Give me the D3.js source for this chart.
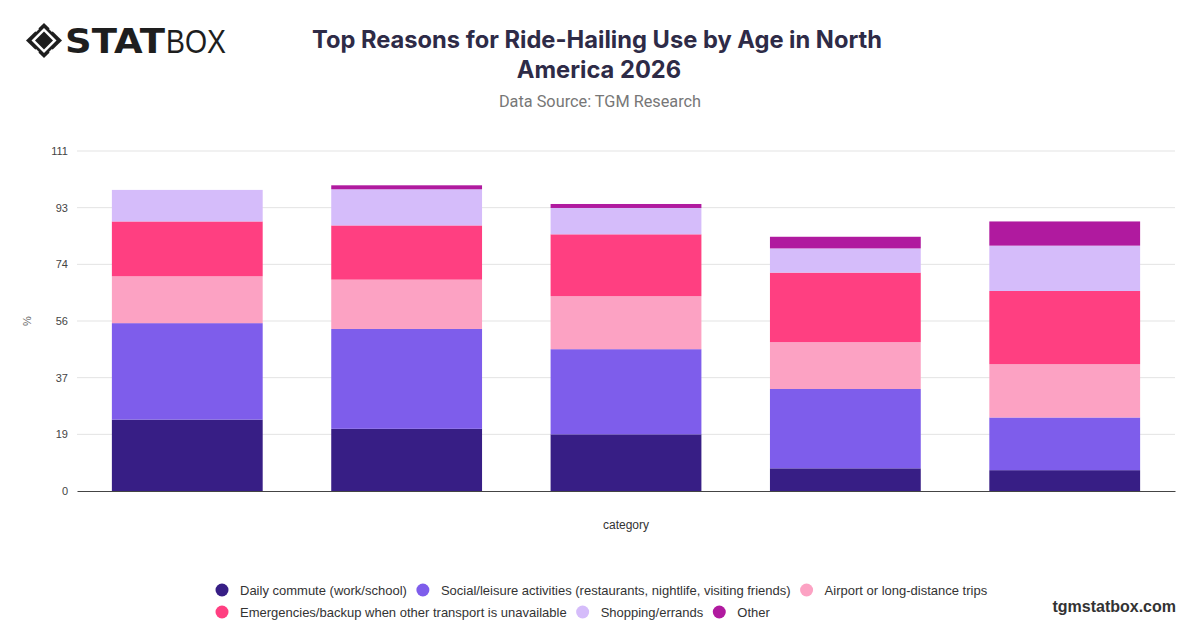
<!DOCTYPE html>
<html>
<head>
<meta charset="utf-8">
<script src="https://cdn.jsdelivr.net/npm/d3@7"></script>
<style>
  html, body { margin: 0; padding: 0; background: #fff; }
  svg { display: block; font-family: "Liberation Sans", Arial, sans-serif; }
</style>
</head>
<body>
<svg id="chart" width="1200" height="628"></svg>
<script>
// ---- Data ----
const categories = ["18-24", "25-34", "35-44", "45-54", "55+"];
const seriesNames = [
  "Daily commute (work/school)",
  "Social/leisure activities (restaurants, nightlife, visiting friends)",
  "Airport or long-distance trips",
  "Emergencies/backup when other transport is unavailable",
  "Shopping/errands",
  "Other"
];
const dailyCommute   = [23.3, 20.3, 18.5, 7.4, 6.8];
const socialLeisure  = [31.5, 32.6, 27.8, 25.9, 17.2];
const airportTrips   = [15.3, 16.1, 17.3, 15.3, 17.4];
const emergencies    = [17.9, 17.7, 20.2, 22.7, 23.9];
const shopping       = [10.3, 11.8, 8.6, 7.9, 14.8];
const other          = [0.0, 1.3, 1.3, 3.8, 7.9];
const yTickValues    = [0, 18.5, 37, 55.5, 74, 92.5, 111];
const yMax = 111;
const colors = ["#371e85", "#7e5deb", "#fca2c3", "#ff3f81", "#d5bcfa", "#b01a9f"];

(function () {
const seriesValues = [dailyCommute, socialLeisure, airportTrips, emergencies, shopping, other];
const table = categories.map((c, i) => {
  const row = { category: c };
  seriesNames.forEach((s, j) => { row[s] = seriesValues[j][i]; });
  return row;
});

const svg = d3.select("#chart");

// ---- Logo ----
const logo = svg.append("g");
logo.append("path")
  .attr("d", "M44,23 L62,40.5 L44,58 L26,40.5 Z")
  .attr("fill", "#1e1e1e");
logo.append("path")
  .attr("d", "M44,28 L56.5,40.5 L44,53 L31.5,40.5 Z")
  .attr("fill", "#fff");
logo.append("path")
  .attr("d", "M44,31.5 L53,40.5 L44,49.5 L35,40.5 Z")
  .attr("fill", "#1e1e1e");
[[35.5,31.5,38.5,28.5],[52.5,31.5,49.5,28.5],[35.5,49.5,38.5,52.5],[52.5,49.5,49.5,52.5]].forEach(p => {
  logo.append("line").attr("x1", p[0]).attr("y1", p[1]).attr("x2", p[2]).attr("y2", p[3])
    .attr("stroke", "#fff").attr("stroke-width", 1.6);
});
logo.append("text")
  .attr("x", 65).attr("y", 53)
  .attr("font-family", "'DejaVu Sans', sans-serif")
  .attr("font-weight", 900).attr("font-size", 33)
  .attr("textLength", 100).attr("lengthAdjust", "spacingAndGlyphs")
  .attr("fill", "#1e1e1e").text("STAT");
logo.append("text")
  .attr("x", 166).attr("y", 53)
  .attr("font-family", "'Liberation Sans', sans-serif")
  .attr("font-weight", 300).attr("font-size", 33)
  .attr("textLength", 60).attr("lengthAdjust", "spacingAndGlyphs")
  .attr("fill", "#1e1e1e").text("BOX");

// ---- Title ----
svg.append("text").attr("x", 597).attr("y", 48).attr("text-anchor", "middle")
  .attr("font-family", "Inter, 'Liberation Sans', sans-serif")
  .attr("font-weight", 700).attr("font-size", 23.7).attr("fill", "#2e2b47")
  .text("Top Reasons for Ride-Hailing Use by Age in North");
svg.append("text").attr("x", 599).attr("y", 78).attr("text-anchor", "middle")
  .attr("font-family", "Inter, 'Liberation Sans', sans-serif")
  .attr("font-weight", 700).attr("font-size", 23.7).attr("fill", "#2e2b47")
  .text("America 2026");
svg.append("text").attr("x", 600).attr("y", 107).attr("text-anchor", "middle")
  .attr("font-family", "Roboto, 'Liberation Sans', sans-serif")
  .attr("font-size", 16.3).attr("fill", "#777")
  .text("Data Source: TGM Research");

// ---- Chart ----
const pLeft = 77, pRight = 1175, pTop = 151, pBottom = 491;
const x = d3.scaleBand().domain(categories).range([pLeft, pRight])
  .paddingInner(0.3125).paddingOuter(0.159);
const y = d3.scaleLinear().domain([0, yMax]).range([pBottom, pTop]);

svg.append("g").attr("class", "grid")
  .selectAll("line").data(yTickValues.filter(d => d > 0)).join("line")
  .attr("x1", pLeft).attr("x2", pRight)
  .attr("y1", d => y(d)).attr("y2", d => y(d))
  .attr("stroke", "#e3e3e3").attr("stroke-width", 1);

const yAxis = d3.axisLeft(y).tickValues(yTickValues).tickFormat(d => Math.round(d)).tickSize(0).tickPadding(9);
const yg = svg.append("g").attr("transform", `translate(${pLeft},0)`).call(yAxis);
yg.select(".domain").remove();
yg.selectAll("text").attr("font-size", 11).attr("fill", "#444")
  .attr("font-family", "'Liberation Sans', Arial, sans-serif");

const stacked = d3.stack().keys(seriesNames)(table);
svg.append("g").selectAll("g").data(stacked).join("g")
  .attr("fill", (d, i) => colors[i])
  .selectAll("rect").data(d => d).join("rect")
  .attr("x", d => x(d.data.category))
  .attr("width", x.bandwidth())
  .attr("y", d => y(d[1]))
  .attr("height", d => Math.max(0, y(d[0]) - y(d[1])));

const xAxis = d3.axisBottom(x).tickFormat(() => "").tickSize(0);
const xg = svg.append("g").attr("transform", `translate(0,${pBottom})`).call(xAxis);
xg.select(".domain").attr("stroke", "#444").attr("stroke-width", 1.2);

svg.append("text").attr("x", (pLeft + pRight) / 2).attr("y", 529).attr("text-anchor", "middle")
  .attr("font-size", 12).attr("fill", "#333").text("category");
svg.append("text").attr("transform", "translate(31,321) rotate(-90)").attr("text-anchor", "middle")
  .attr("font-size", 11).attr("fill", "#666").text("%");

// ---- Legend ----
const legend = svg.append("g").attr("font-size", 13);
const rows = [[0, 1, 2], [3, 4, 5]];
const rowY = [590, 612];
const startX = 222;
rows.forEach((r, ri) => {
  let cx = startX;
  r.forEach(idx => {
    legend.append("circle").attr("cx", cx).attr("cy", rowY[ri]).attr("r", 6.5).attr("fill", colors[idx]);
    const t = legend.append("text").attr("x", cx + 18).attr("y", rowY[ri] + 4.5)
      .attr("fill", "#333").text(seriesNames[idx]);
    const w = t.node().getComputedTextLength();
    cx += 18 + w + 16;
  });
});

svg.append("text").attr("x", 1176).attr("y", 612).attr("text-anchor", "end")
  .attr("font-weight", 700).attr("font-size", 16).attr("fill", "#333")
  .text("tgmstatbox.com");
})();
</script>
</body>
</html>
